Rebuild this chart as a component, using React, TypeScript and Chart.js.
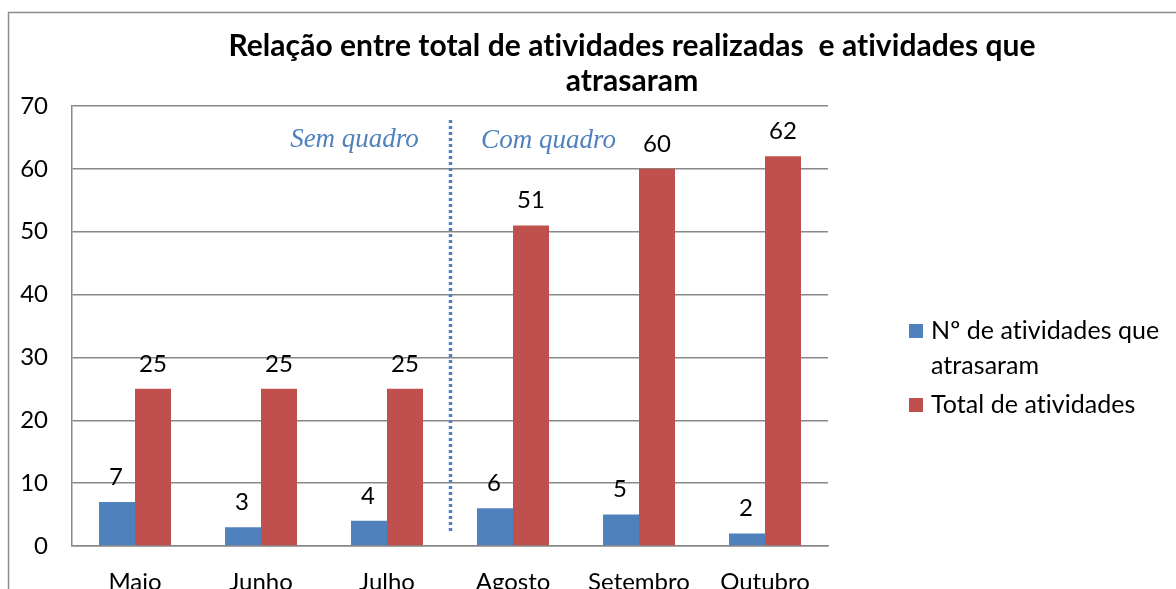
import React, { useEffect, useRef } from "react";
import { Chart, registerables } from "chart.js";

Chart.register(...registerables);

const categories = ["Maio", "Junho", "Julho", "Agosto", "Setembro", "Outubro"];
const atrasaram = [7, 3, 4, 6, 5, 2];
const totalAtividades = [25, 25, 25, 51, 60, 62];
const seriesNames = ["Nº de atividades que atrasaram", "Total de atividades"];
const legendLines = [["Nº de atividades que", "atrasaram"], ["Total de atividades"]];
const titleLines = ["Relação entre total de atividades realizadas  e atividades que", "atrasaram"];
const periodLabels = ["Sem quadro", "Com quadro"];
const yMin = 0;
const yMax = 70;
const yStep = 10;

const BLUE = "#4F81BD";
const RED = "#C0504D";
const GRID = "#888888";
const FONT = "Lato, 'Open Sans', sans-serif";

const decorPlugin = {
  id: "decor",
  beforeDraw(chart: any) {
    const ctx = chart.ctx;
    ctx.save();
    ctx.strokeStyle = "#8c8c8c";
    ctx.lineWidth = 1.5;
    ctx.strokeRect(8.5, 12.5, 1400, 800);
    ctx.restore();
  },
  afterDatasetsDraw(chart: any) {
    const ctx = chart.ctx;
    const x = chart.scales.x;
    ctx.save();
    // data labels
    ctx.font = `24px ${FONT}`;
    ctx.fillStyle = "#000";
    ctx.textAlign = "center";
    ctx.textBaseline = "middle";
    chart.data.datasets.forEach((ds: any, di: number) => {
      const meta = chart.getDatasetMeta(di);
      meta.data.forEach((bar: any, i: number) => {
        ctx.fillText(String(ds.data[i]), bar.x - (di === 0 ? 1 : 0), bar.y - 25);
      });
    });
    // dotted separator
    const sx = Math.round(x.getPixelForValue(2.5)) + 0.5;
    ctx.strokeStyle = BLUE;
    ctx.lineWidth = 3.5;
    ctx.setLineDash([3, 3]);
    ctx.beginPath();
    ctx.moveTo(sx, 120);
    ctx.lineTo(sx, 532);
    ctx.stroke();
    ctx.setLineDash([]);
    // period labels
    ctx.font = `italic 27px 'Liberation Serif', 'DejaVu Serif', serif`;
    ctx.fillStyle = BLUE;
    ctx.textAlign = "center";
    ctx.fillText(periodLabels[0], sx - 96, 140);
    ctx.fillText(periodLabels[1], sx + 98, 141);
    // title (small letter spacing avoids the "ti" ligature)
    ctx.letterSpacing = "0.05px";
    ctx.font = `bold 30px ${FONT}`;
    ctx.fillStyle = "#000";
    ctx.fillText(titleLines[0], 632, 46);
    ctx.fillText(titleLines[1], 632, 81);
    // legend
    ctx.font = `25px ${FONT}`;
    ctx.textAlign = "left";
    const colors = [BLUE, RED];
    const ys = [331, 405];
    legendLines.forEach((lines, li) => {
      ctx.fillStyle = colors[li];
      ctx.fillRect(909, ys[li] - 7, 14, 14);
      ctx.fillStyle = "#000";
      lines.forEach((t, k) => ctx.fillText(t, 931, ys[li] + k * 35));
    });
    ctx.restore();
  },
};

export default function App() {
  const ref = useRef<HTMLCanvasElement>(null);
  useEffect(() => {
    if (!ref.current) return;
    const chart = new Chart(ref.current, {
      type: "bar",
      data: {
        labels: categories,
        datasets: [
          { label: seriesNames[0], data: atrasaram, backgroundColor: BLUE },
          { label: seriesNames[1], data: totalAtividades, backgroundColor: RED },
        ],
      },
      options: {
        animation: false,
        responsive: false,
        layout: { padding: { top: 106, right: 348, left: 0, bottom: 0 } },
        datasets: { bar: { categoryPercentage: 72 / 126, barPercentage: 1 } },
        plugins: { legend: { display: false }, title: { display: false }, tooltip: { enabled: false } },
        scales: {
          x: {
            grid: { display: false, drawTicks: false },
            border: { display: true, color: GRID, width: 1.5 },
            ticks: { font: { family: FONT, size: 24 }, color: "#000", padding: 22 },
            afterFit: (s: any) => { s.height = 43; },
          },
          y: {
            min: yMin,
            max: yMax,
            grid: { color: GRID, lineWidth: 1.5, drawTicks: false },
            border: { display: true, color: GRID, width: 1.5 },
            ticks: { stepSize: yStep, font: { family: FONT, size: 24 }, color: "#000", padding: 24 },
            afterFit: (s: any) => { s.width = 72; },
          },
        },
      },
      plugins: [decorPlugin],
    });
    return () => chart.destroy();
  }, []);
  return (
    <canvas
      ref={ref}
      width={1176}
      height={589}
      style={{ position: "absolute", left: 0, top: 0, display: "block" }}
    />
  );
}
